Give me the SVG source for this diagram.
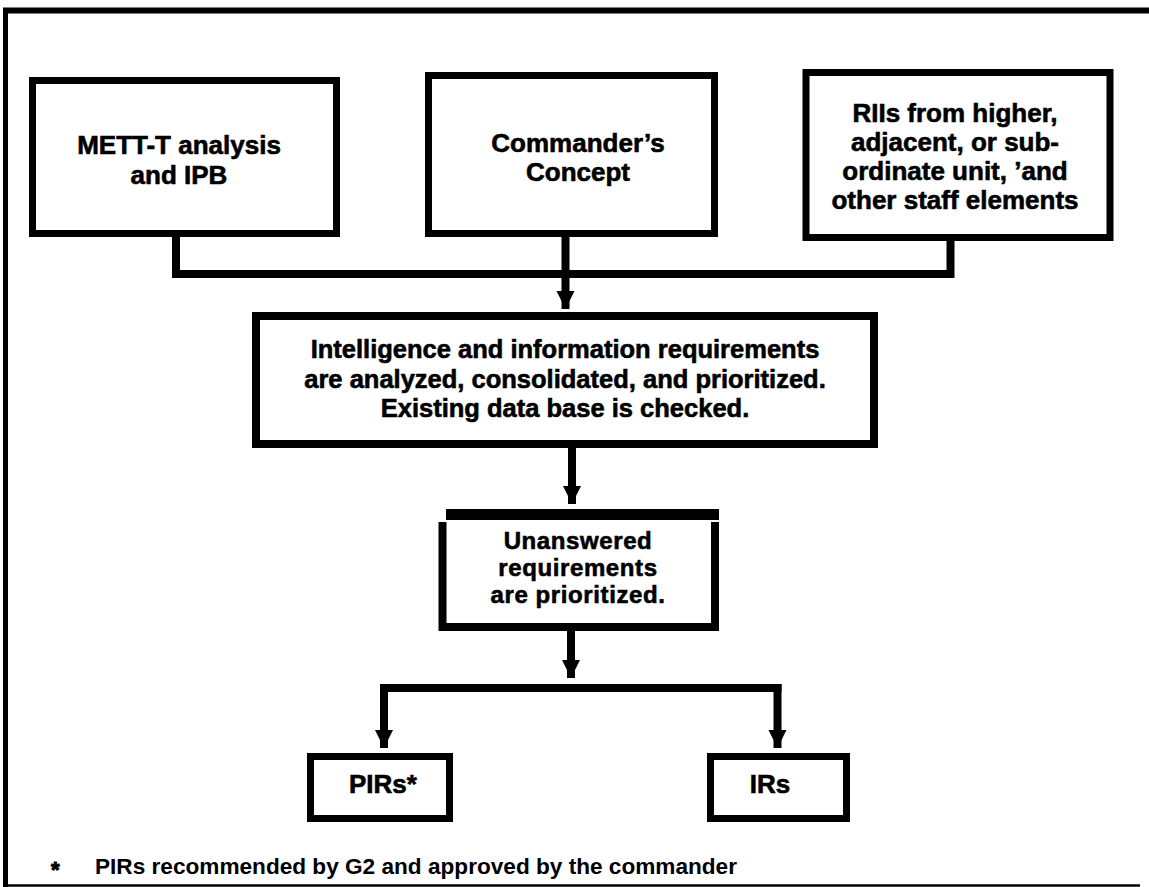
<svg xmlns="http://www.w3.org/2000/svg" width="1149" height="887" viewBox="0 0 1149 887">
  <defs>
    <style>
      .box { fill: #fff; stroke: #000; stroke-width: 7; }
      .t { font-family: "Liberation Sans", Arial, Helvetica, sans-serif; font-weight: bold; font-size: 26px; fill: #000; stroke: #000; stroke-width: 0.6; text-anchor: middle; }
      .t4 { font-size: 25.5px; }
      .t5 { font-size: 24px; letter-spacing: 0.6px; }
      .fn { font-family: "Liberation Sans", Arial, Helvetica, sans-serif; font-weight: bold; font-size: 22px; fill: #000; }
      .ln { fill: none; stroke: #000; stroke-width: 8; }
    </style>
    <marker id="ah" markerUnits="userSpaceOnUse" markerWidth="20" markerHeight="20" refX="18" refY="9" orient="auto" viewBox="0 0 20 18">
      <path d="M0,0 L18,9 L0,18 Z" fill="#000"/>
    </marker>
  </defs>
  <rect width="1149" height="887" fill="#fff"/>
  <g id="frame">
    <line x1="3" y1="10.5" x2="1149" y2="10.5" stroke="#000" stroke-width="6"/>
    <line x1="5.5" y1="8" x2="5.5" y2="887" stroke="#000" stroke-width="5"/>
    <line x1="3" y1="885.5" x2="1140" y2="885.5" stroke="#000" stroke-width="2.5"/>
  </g>
  <g id="connectors">
    <polyline class="ln" points="176,237 176,274 950.5,274 950.5,241"/>
    <line class="ln" x1="565.5" y1="237" x2="565.5" y2="309" marker-end="url(#ah)"/>
    <line class="ln" x1="572" y1="448" x2="572" y2="504" marker-end="url(#ah)"/>
    <line class="ln" x1="571" y1="631" x2="571" y2="678" marker-end="url(#ah)"/>
    <polyline class="ln" points="380,688 781.5,688"/>
    <line class="ln" x1="384" y1="684" x2="384" y2="748" marker-end="url(#ah)"/>
    <line class="ln" x1="777.5" y1="684" x2="777.5" y2="748" marker-end="url(#ah)"/>
  </g>
  <g id="n1">
    <rect class="box" x="32.5" y="80.5" width="304" height="153"/>
    <text class="t" x="179" y="154">METT-T analysis</text>
    <text class="t" x="179" y="184">and IPB</text>
  </g>
  <g id="n2">
    <rect class="box" x="428.5" y="75.5" width="286" height="158"/>
    <text class="t" x="578" y="152">Commander’s</text>
    <text class="t" x="578" y="181">Concept</text>
  </g>
  <g id="n3">
    <rect class="box" x="806" y="72.5" width="304" height="165"/>
    <text class="t" x="955" y="122">RIIs from higher,</text>
    <text class="t" x="955" y="151">adjacent, or sub-</text>
    <text class="t" x="955" y="180">ordinate unit, ’and</text>
    <text class="t" x="955" y="209">other staff elements</text>
  </g>
  <g id="n4">
    <rect class="box" x="256" y="316" width="618" height="128" style="stroke-width:8"/>
    <text class="t t4" x="565" y="358">Intelligence and information requirements</text>
    <text class="t t4" x="565" y="388">are analyzed, consolidated, and prioritized.</text>
    <text class="t t4" x="565" y="417">Existing data base is checked.</text>
  </g>
  <g id="n5">
    <rect x="446" y="509" width="273" height="11" fill="#000"/>
    <polyline points="442.5,522 442.5,627 715,627 715,522" fill="none" stroke="#000" stroke-width="8"/>
    <text class="t t5" x="578" y="549">Unanswered</text>
    <text class="t t5" x="578" y="576">requirements</text>
    <text class="t t5" x="578" y="603">are prioritized.</text>
  </g>
  <g id="n6">
    <rect class="box" x="310.5" y="756.5" width="139" height="62"/>
    <text class="t" x="383" y="793">PIRs*</text>
  </g>
  <g id="n7">
    <rect class="box" x="710.5" y="756.5" width="136" height="62"/>
    <text class="t" x="770" y="793">IRs</text>
  </g>
  <g id="footnote">
    <text class="fn" x="51" y="877" font-size="32" stroke="#000" stroke-width="1">*</text>
    <text class="fn" x="95" y="874" textLength="642" lengthAdjust="spacingAndGlyphs">PIRs recommended by G2 and approved by the commander</text>
  </g>
</svg>
